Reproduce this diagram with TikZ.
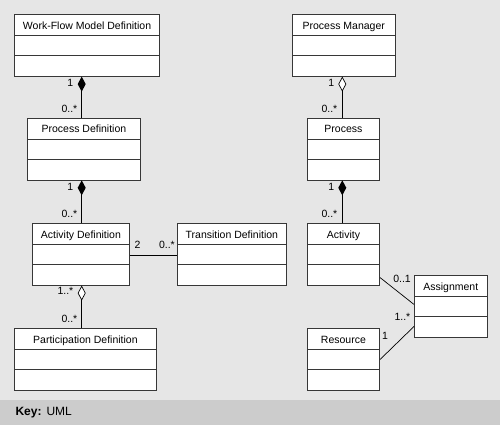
\documentclass[tikz,border=0pt]{standalone}
\usepackage{fontspec}
\setmainfont{Liberation Sans}
\usetikzlibrary{shapes.multipart,arrows.meta}
\definecolor{panelgray}{RGB}{230,230,230}
\definecolor{keygray}{RGB}{204,204,204}
\definecolor{boxline}{RGB}{55,55,55}
\tikzset{
  umlclass/.style={rectangle split, rectangle split parts=3, draw=boxline, line width=0.8pt,
    fill=white, anchor=north west, inner ysep=0pt,
    rectangle split empty part height=14pt, rectangle split empty part depth=5.7pt,
    font=\fontsize{10.5}{12}\selectfont, execute at begin node={\rule[-5.7pt]{0pt}{19.7pt}}},
  mult/.style={font=\fontsize{10.5}{12}\selectfont, inner sep=1pt, anchor=east},
  comp/.style={line width=1.2pt, -{Diamond[length=15pt,width=8pt]}},
  aggr/.style={line width=0.7pt, -{Diamond[length=15pt,width=8pt,fill=white]}},
  assoc/.style={line width=0.7pt}
}
\begin{document}
\begin{tikzpicture}[x=1pt, y=-1pt]
\useasboundingbox (0,0) rectangle (500,425);
\fill[panelgray] (0,0) rectangle (500,400);
\fill[keygray] (0,400) rectangle (500,425);
\node[anchor=west, font=\fontsize{12}{14}\selectfont] (key) at (12,413) {\textbf{Key:}\hspace{5pt}UML};

% Left column: definitions
\node[umlclass, minimum width=144.7pt] (wfmd) at (14.3,14.3) {Work-Flow Model Definition};
\node[umlclass, minimum width=113.6pt] (pd) at (26.7,118) {Process Definition};
\node[umlclass, minimum width=97.6pt] (ad) at (31.7,223.3) {Activity Definition};
\node[umlclass, minimum width=108.4pt] (td) at (177.3,223.3) {Transition Definition};
\node[umlclass, minimum width=141.4pt] (partd) at (14.3,328.3) {Participation Definition};

% Right column: run time
\node[umlclass, minimum width=103.3pt] (pm) at (291.7,14.3) {Process Manager};
\node[umlclass, minimum width=72.6pt] (proc) at (306.7,118) {Process};
\node[umlclass, minimum width=72.6pt] (act) at (306.7,223.3) {Activity};
\node[umlclass, minimum width=72.7pt] (asg) at (414,275.3) {Assignment};
\node[umlclass, minimum width=72.6pt] (res) at (306.7,328.3) {Resource};

% Connectors
\coordinate (lx) at (81.7,0);
\coordinate (rx) at (342.3,0);
\draw[comp] (pd.north -| lx) -- (wfmd.south -| lx);
\draw[comp] (ad.north -| lx) -- (pd.south -| lx);
\draw[aggr] (partd.north -| lx) -- (ad.south -| lx);
\draw[assoc] ([yshift=-1pt]ad.east) -- ([yshift=-1pt]ad.east -| td.west);
\draw[aggr] (proc.north -| rx) -- (pm.south -| rx);
\draw[comp] (act.north -| rx) -- (proc.south -| rx);
\draw[assoc] ([yshift=8pt]act.south east) -- ([yshift=2pt]asg.west);
\draw[assoc] (res.east) -- ([yshift=-20pt]asg.west);

% Multiplicities
\node[mult] (m1) at (74.5,83) {1};
\node[mult] (m2) at (78.5,109) {0..*};
\node[mult] (m3) at (74.5,187) {1};
\node[mult] (m4) at (78.5,214) {0..*};
\node[mult] (m5) at (74.5,291) {1..*};
\node[mult] (m6) at (78.5,319) {0..*};
\node[mult, anchor=center] (m7) at (137.5,245) {2};
\node[mult] (m8) at (176,245) {0..*};
\node[mult] (m9) at (335.3,83) {1};
\node[mult] (m10) at (338.5,109) {0..*};
\node[mult] (m11) at (335.3,187) {1};
\node[mult] (m12) at (338.5,214) {0..*};
\node[mult] (m13) at (412,278.5) {0..1};
\node[mult] (m14) at (411.5,317) {1..*};
\node[mult, anchor=center] (m15) at (385,336) {1};
\end{tikzpicture}
\end{document}
